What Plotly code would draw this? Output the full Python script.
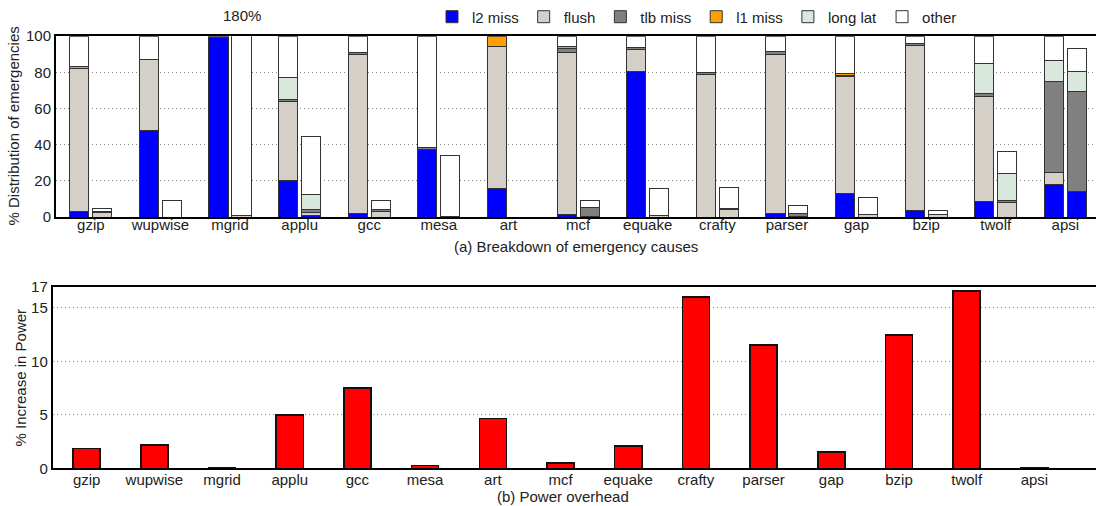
import numpy as np
import plotly.graph_objects as go

categories = ["gzip", "wupwise", "mgrid", "applu", "gcc", "mesa", "art", "mcf",
              "equake", "crafty", "parser", "gap", "bzip", "twolf", "apsi"]

series_names = ["l2 miss", "flush", "tlb miss", "l1 miss", "long lat", "other"]
series_colors = ["#0000ff", "#d4d0c8", "#808080", "#ffa000", "#d8e8dc", "#ffffff"]

# first bar of each benchmark (% distribution of emergencies)
l2_a     = [3.0, 47.7, 99.0, 20.0, 2.0, 37.6, 15.8, 1.5, 80.7, 0.0, 2.0, 13.0, 3.7, 8.8, 18.2]
flush_a  = [79.0, 39.6, 1.0, 44.0, 88.0, 0.0, 78.7, 89.5, 12.0, 79.0, 88.0, 64.5, 91.0, 58.0, 6.4]
tlb_a    = [0.0, 0.0, 0.0, 1.0, 1.0, 1.0, 0.0, 2.0, 1.0, 1.0, 1.5, 0.5, 1.0, 1.3, 50.4]
l1_a     = [1.5, 0.0, 0.0, 0.0, 0.0, 0.0, 5.5, 1.5, 0.0, 0.0, 0.0, 1.5, 0.0, 0.0, 0.0]
longlat_a = [0.0, 0.0, 0.0, 12.0, 0.0, 0.0, 0.0, 0.0, 0.0, 0.0, 0.0, 0.0, 0.0, 17.0, 11.4]
other_a  = [16.5, 12.7, 0.0, 23.0, 9.0, 61.4, 0.0, 5.5, 6.3, 20.0, 8.5, 20.5, 4.3, 14.9, 13.6]

# second bar of each benchmark
l2_b     = [0.0, 0.0, 0.0, 0.7, 0.0, 0.0, 0.0, 0.6, 0.0, 0.0, 0.0, 0.0, 0.0, 0.0, 13.9]
flush_b  = [2.5, 0.0, 1.0, 2.0, 3.0, 0.5, 0.0, 0.0, 0.7, 4.0, 0.5, 1.2, 1.3, 8.0, 0.0]
tlb_b    = [0.5, 0.0, 0.0, 1.3, 1.0, 0.0, 0.0, 5.0, 0.0, 0.6, 1.3, 0.0, 0.0, 1.2, 55.8]
l1_b     = [0.0, 0.0, 0.0, 0.0, 0.0, 0.0, 0.0, 0.0, 0.0, 0.0, 0.0, 0.0, 0.0, 0.0, 0.0]
longlat_b = [0.0, 0.0, 0.0, 8.5, 0.0, 0.0, 0.0, 0.0, 0.0, 0.0, 0.0, 0.0, 0.0, 15.0, 10.5]
other_b  = [2.0, 9.2, 179.0, 32.2, 5.4, 33.8, 0.0, 3.6, 14.9, 11.9, 4.8, 9.4, 2.4, 12.3, 13.2]

# % increase in power
power = [1.87, 2.18, 0.03, 4.98, 7.5, 0.28, 4.67, 0.53, 2.09, 16.04, 11.53, 1.56, 12.46, 16.6, 0.04]

y_ticks_top = [0, 20, 40, 60, 80, 100]
y_ticks_bottom = [0, 5, 10, 15, 17]

W, H = 1096, 506
FONT = "Liberation Sans, Arial, sans-serif"
TXT = "#222222"

idx = np.arange(len(categories))
off = 0.165
bw = 0.275

fig = go.Figure()
series_a = [l2_a, flush_a, tlb_a, l1_a, longlat_a, other_a]
series_b = [l2_b, flush_b, tlb_b, l1_b, longlat_b, other_b]
for name, col, va, vb in zip(series_names, series_colors, series_a, series_b):
    xs = list(idx - off) + list(idx + off)
    ys = [v if v > 0 else None for v in list(va) + list(vb)]
    fig.add_trace(go.Bar(
        x=xs, y=ys, name=name, width=bw,
        marker=dict(color=col, line=dict(color="#333333", width=1)),
        xaxis="x", yaxis="y",
    ))

fig.add_trace(go.Bar(
    x=categories, y=power, width=0.4, showlegend=False,
    marker=dict(color="#ff0000", line=dict(color="#111111", width=1.5)),
    xaxis="x2", yaxis="y2",
))

def px_x(p):
    return p / W

def px_y(p):
    return 1 - p / H

axis_common = dict(showline=True, mirror=True, linecolor="black", linewidth=2,
                   ticks="", zeroline=False, automargin=False,
                   tickfont=dict(family=FONT, size=15, color=TXT))
grid_common = dict(showgrid=True, gridcolor="#888888", gridwidth=1, griddash="1px,3px")

fig.update_layout(
    width=W, height=H,
    margin=dict(l=0, r=0, t=0, b=0),
    paper_bgcolor="white", plot_bgcolor="white",
    barmode="stack",
    font=dict(family=FONT, size=15, color=TXT),
    xaxis=dict(domain=[px_x(56), 1], range=[-0.5, 14.44], tickmode="array",
               tickvals=list(idx), ticktext=categories, showgrid=False,
               ticklabelstandoff=-7, anchor="y", **axis_common),
    yaxis=dict(domain=[px_y(216), px_y(34.3)], range=[0, 100], tickmode="array",
               tickvals=y_ticks_top, anchor="x", **grid_common, **axis_common),
    xaxis2=dict(domain=[px_x(52.8), 1], range=[-0.5, 14.91], type="category",
                showgrid=False, ticklabelstandoff=-3, anchor="y2", **axis_common),
    yaxis2=dict(domain=[px_y(468.3), px_y(285.7)], range=[0, 17], tickmode="array",
                tickvals=y_ticks_bottom, anchor="x2", **grid_common, **axis_common),
    legend=dict(orientation="h", x=px_x(432), y=px_y(15), xanchor="left", yanchor="middle",
                font=dict(family=FONT, size=15, color=TXT), bgcolor="rgba(0,0,0,0)",
                traceorder="normal"),
    showlegend=True,
)

def note(x, y, text, xref="paper", angle=0):
    fig.add_annotation(x=x, y=y, xref=xref, yref="paper", text=text, showarrow=False,
                       xanchor="center", yanchor="middle", textangle=angle,
                       font=dict(family=FONT, size=15, color=TXT))

note(2 + off, px_y(14), "180%", xref="x")
note(px_x(576), px_y(245), "(a) Breakdown of emergency causes")
note(px_x(563), px_y(496), "(b) Power overhead")
note(px_x(14), px_y(125), "% Distribution of emergencies", angle=-90)
note(px_x(21), px_y(377), "% Increase in Power", angle=-90)

fig.write_html("out.html", config={"displayModeBar": False},
               post_script="document.body.style.margin='0';")
